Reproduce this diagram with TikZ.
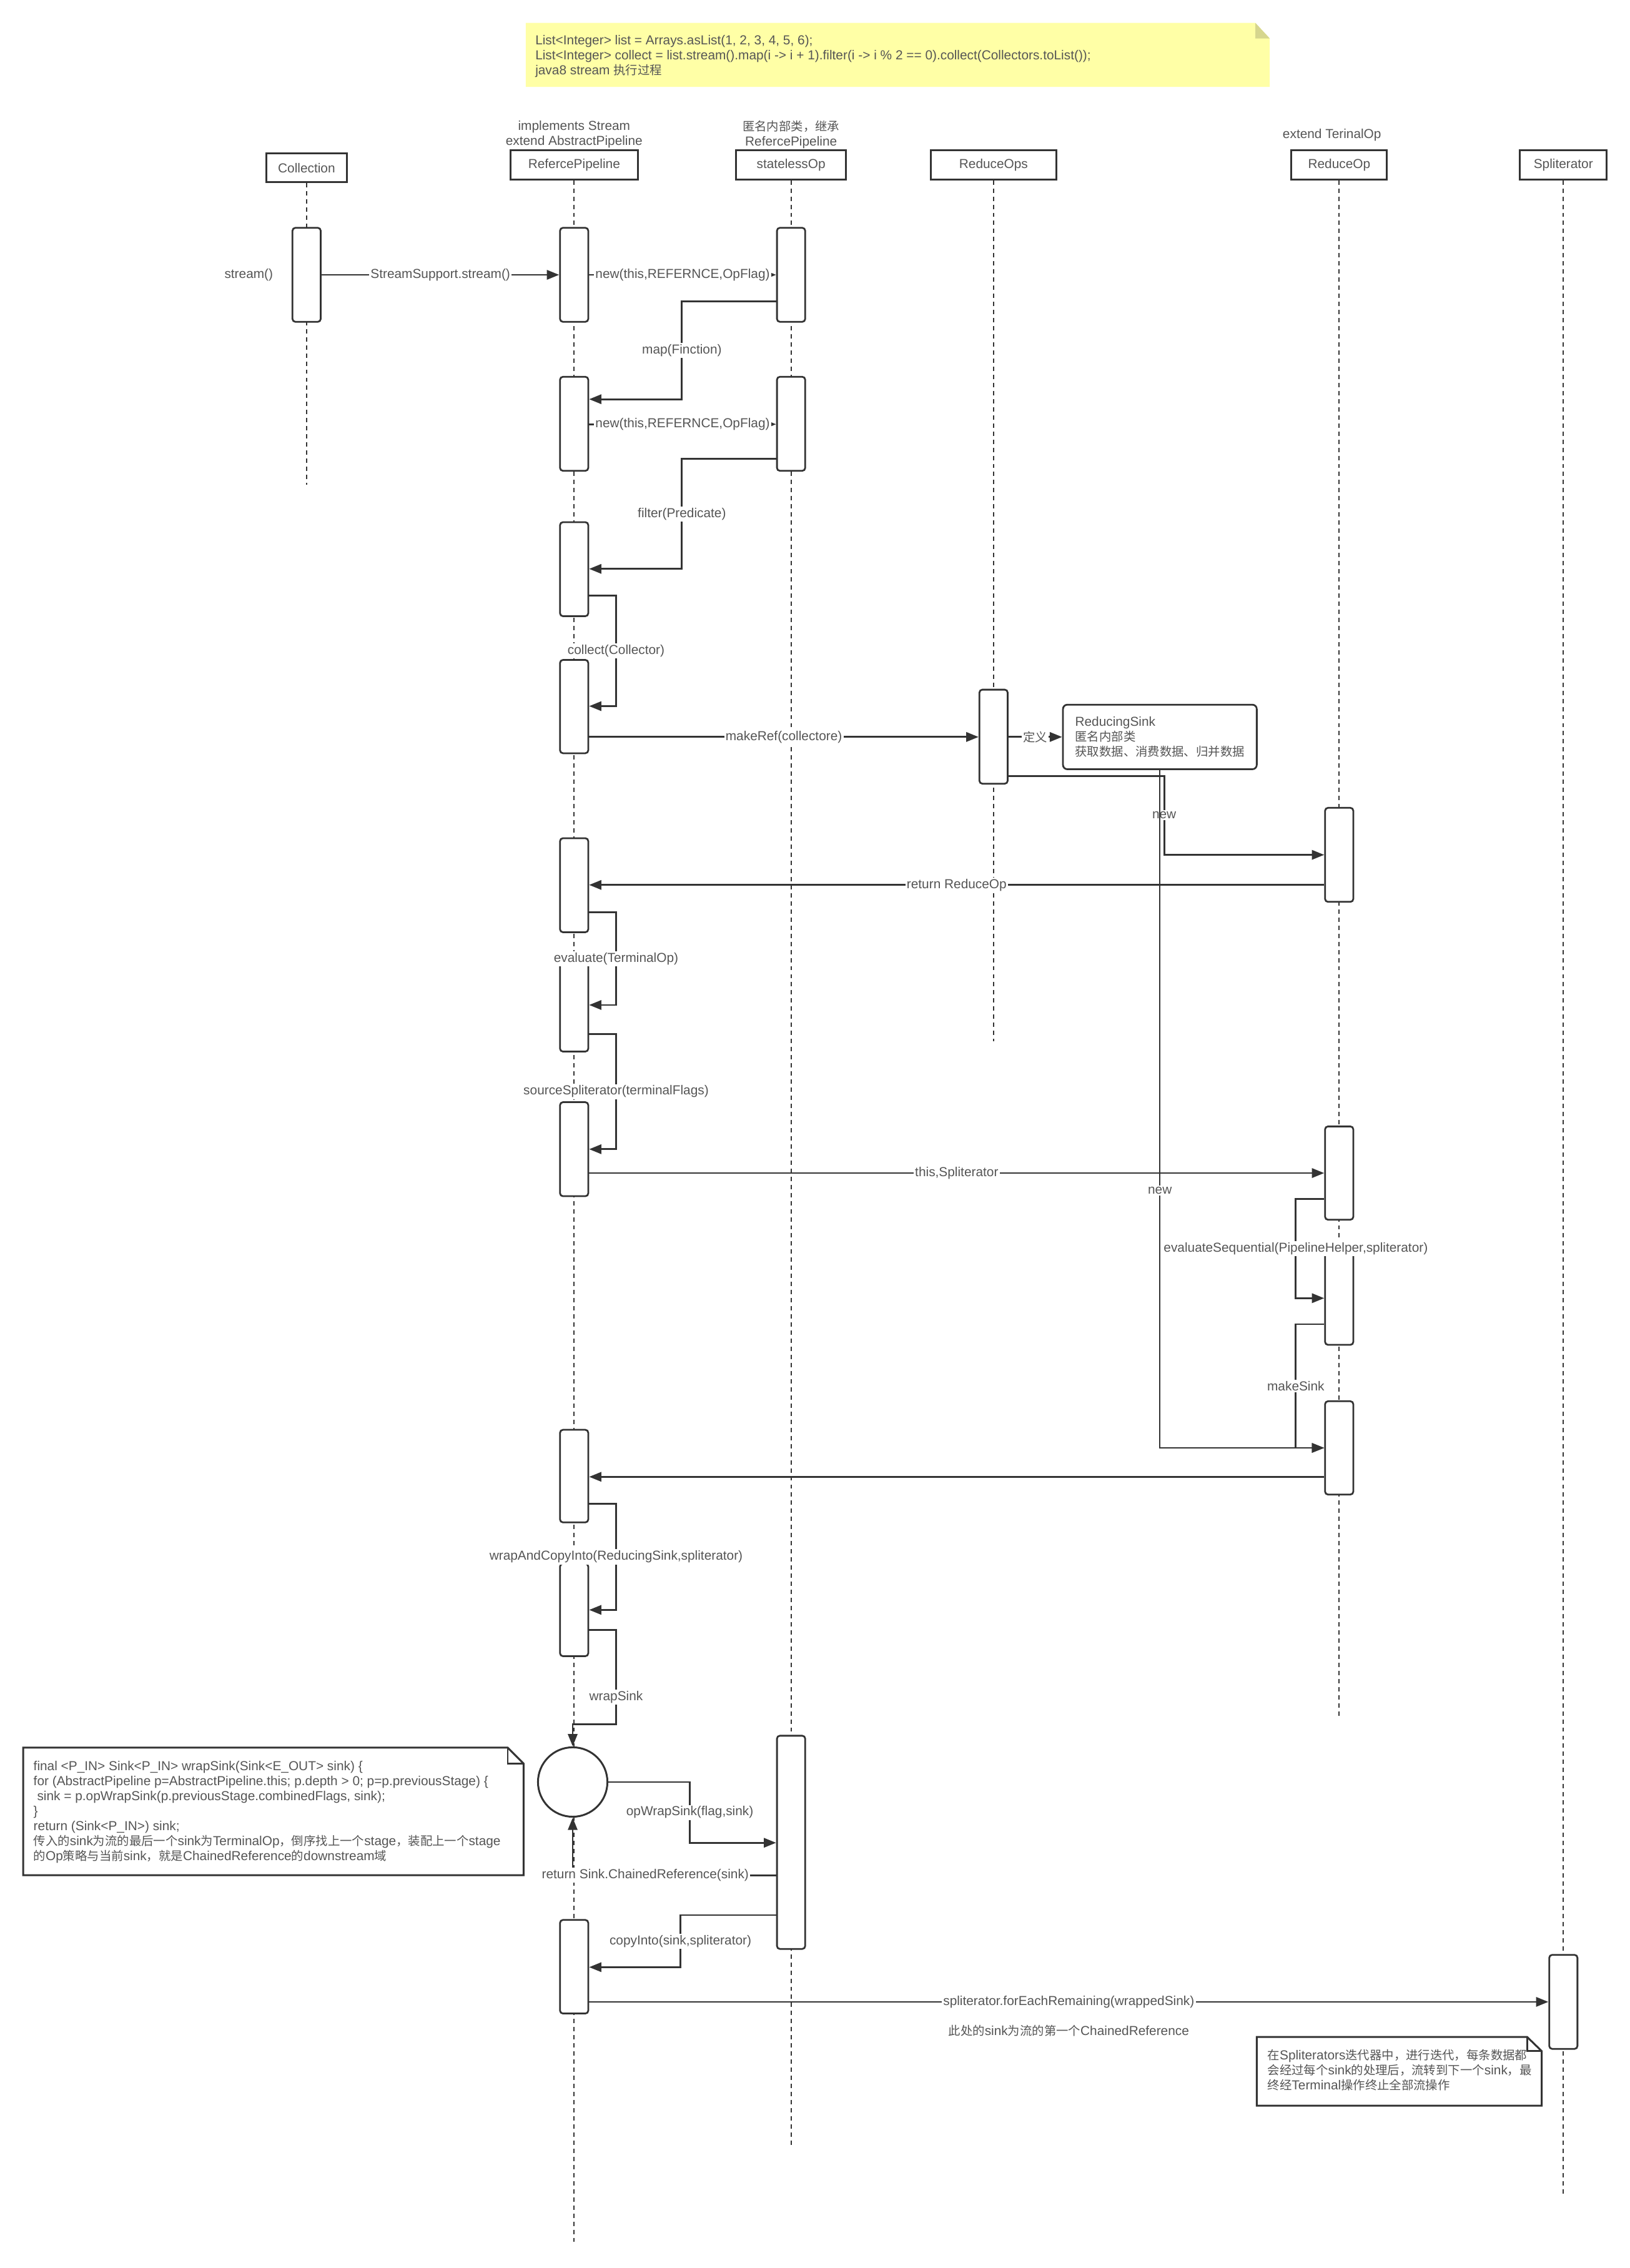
\documentclass[tikz,border=0pt]{standalone}
\usepackage{fontspec}
\setmainfont{Liberation Sans}
\newfontfamily\cjk[Scale=0.93]{Noto Sans CJK SC}
\usetikzlibrary{arrows.meta}
\definecolor{lc}{HTML}{333333}
\definecolor{tc}{HTML}{555555}
\definecolor{notey}{HTML}{FFFFA6}
\definecolor{foldy}{HTML}{D6D68E}
\newcommand\lblfont{\fontsize{9}{10.4}\selectfont\lineskiplimit=-100pt\relax}
\newcommand\fstrut{\rule{0pt}{8.5pt}}

\begin{document}
\begin{tikzpicture}[x=1pt,y=-1pt,
  lbl/.style={font=\lblfont, text=tc, inner sep=1pt},
  onln/.style={lbl, fill=white},
  head/.style={lbl, draw=lc, line width=1.3pt, fill=white, minimum height=20pt, inner sep=0pt},
  bar/.style={draw=lc, line width=1.2pt, fill=white, rounded corners=2pt, minimum width=19.5pt, inner sep=0pt},
  life/.style={draw=lc, line width=0.9pt, dash pattern=on 3pt off 2.6pt},
  msg/.style={draw=lc, line width=1.25pt, -{Triangle[length=8.5pt,width=6.5pt]}},
  msgthin/.style={msg, line width=0.7pt},
  txt/.style={lbl, align=left, anchor=north west, inner sep=0pt},
  notebox/.style={draw=lc, line width=1.3pt, fill=white},
]
\useasboundingbox (0,0) rectangle (1127,1568);

% ---- code note at the top ----
\fill[notey] (363.5,15.8) -- (868,15.8) -- (878,26.6) -- (878,60.1) -- (363.5,60.1) -- cycle;
\fill[foldy] (868,15.8) -- (878,26.6) -- (868,26.6) -- cycle;
\node[txt] (code) at (370,22.2) {\fstrut List<Integer> list = Arrays.asList(1, 2, 3, 4, 5, 6);\\
List<Integer> collect = list.stream().map(i -> i + 1).filter(i -> i \% 2 == 0).collect(Collectors.toList());\\
java8 stream {\cjk 执行过程}};

% ---- lifeline heads ----
\node[head, minimum width=56pt] (hColl) at (212,116) {Collection};
\node[head, minimum width=88pt] (hRP) at (397,114) {RefercePipeline};
\node[head, minimum width=76pt] (hSO) at (547,114) {statelessOp};
\node[head, minimum width=87pt] (hROs) at (687,114) {ReduceOps};
\node[head, minimum width=66pt] (hRO) at (926,114) {ReduceOp};
\node[head, minimum width=60pt] (hSp) at (1081,114) {Spliterator};

\node[lbl, align=center] (rpNote) at (397,93) {implements Stream\\extend AbstractPipeline};
\node[lbl, align=center] (soNote) at (547,93) {{\cjk 匿名内部类，继承}\\RefercePipeline};
\node[lbl] (roNote) at (921,93.5) {extend TerinalOp};

% ---- lifelines ----
\coordinate (eColl) at (212,335);
\coordinate (eRP) at (397,1550);
\coordinate (eSO) at (547,1485);
\coordinate (eROs) at (687,720);
\coordinate (eRO) at (926,1188);
\coordinate (eSp) at (1081,1518);
\draw[life] (hColl.south) -- (eColl);
\draw[life] (hRP.south) -- (eRP);
\draw[life] (hSO.south) -- (eSO);
\draw[life] (hROs.south) -- (eROs);
\draw[life] (hRO.south) -- (eRO);
\draw[life] (hSp.south) -- (eSp);

% ---- activation bars ----
\node[bar, minimum height=65pt] (c1) at (212,190) {};
\node[bar, minimum height=65pt] (rp1) at (397,190) {};
\node[bar, minimum height=65pt] (so1) at (547,190) {};
\node[bar, minimum height=65pt] (rp2) at (397,293) {};
\node[bar, minimum height=65pt] (so2) at (547,293) {};
\node[bar, minimum height=65pt] (rp3) at (397,393.5) {};
\node[bar, minimum height=64.5pt] (rp4) at (397,488.5) {};
\node[bar, minimum height=65pt] (rops) at (687,509.3) {};
\node[bar, minimum height=65pt] (ro1) at (926,591) {};
\node[bar, minimum height=65pt] (rp5) at (397,612) {};
\node[bar, minimum height=64pt] (rp6) at (397,695) {};
\node[bar, minimum height=65pt] (rp7) at (397,794.5) {};
\node[bar, minimum height=64.5pt] (ro2) at (926,811) {};
\node[bar, minimum height=64.5pt] (ro3) at (926,897.5) {};
\node[bar, minimum height=64.5pt] (ro4) at (926,1001) {};
\node[bar, minimum height=64pt] (rp8) at (397,1020.5) {};
\node[bar, minimum height=64pt] (rp9) at (397,1113) {};
\node[bar, minimum height=147.4pt] (so3) at (547,1273.7) {};
\node[bar, minimum height=64.7pt] (rp10) at (397,1359.7) {};
\node[bar, minimum height=65pt] (spb) at (1081,1384) {};

\node[circle, draw=lc, line width=1.3pt, fill=white, minimum size=48pt, inner sep=0pt] (ws) at (396,1232) {};

\node[lbl, draw=lc, line width=1.2pt, fill=white, rounded corners=3pt, minimum width=134pt,
      minimum height=44.6pt, align=left] (sinkbox) at (802,509.5)
      {ReducingSink\\{\cjk 匿名内部类}\\{\cjk 获取数据、消费数据、归并数据}};

% ---- messages ----
\node[lbl] (streamCall) at (172,190) {stream()};
\draw[msg] (c1.east) -- node[onln]{StreamSupport.stream()} (rp1.west);
\draw[msg] (rp1.east) -- node[onln]{new(this,REFERNCE,OpFlag)} (so1.west);
\draw[msg] (so1.west |- 0,208.4) -- (471.5,208.4) -- node[onln]{map(Finction)} (471.5,276) -- (rp2.east |- 0,276);
\draw[msg] (rp2.east |- 0,293.3) -- node[onln]{new(this,REFERNCE,OpFlag)} (so2.west |- 0,293.3);
\draw[msg] (so2.west |- 0,317.3) -- (471.5,317.3) -- node[onln]{filter(Predicate)} (471.5,393.3) -- (rp3.east |- 0,393.3);
\draw[msg] (rp3.east |- 0,411.6) -- (426,411.6) -- node[onln]{collect(Collector)} (426,488.2) -- (rp4.east |- 0,488.2);
\draw[msg] (rp4.east |- sinkbox.west) -- node[onln]{makeRef(collectore)} (rops.west |- sinkbox.west);
\draw[msg] (rops.east |- sinkbox.west) -- node[onln]{\cjk 定义} (sinkbox.west);
\draw[msg] (rops.east |- 0,536.4) -- (805,536.4) -- node[onln]{new} (805,591) -- (ro1.west);
\draw[msg] (ro1.west |- 0,611.8) -- node[onln]{return ReduceOp} (rp5.east |- 0,611.8);
\draw[msg] (rp5.east |- 0,630.8) -- (426,630.8) -- node[onln]{evaluate(TerminalOp)} (426,694.8) -- (rp6.east |- 0,694.8);
\draw[msg] (rp6.east |- 0,714.8) -- (426,714.8) -- node[onln]{sourceSpliterator(terminalFlags)} (426,794.5) -- (rp7.east);
\draw[msg] (rp7.east |- ro2.west) -- node[onln]{this,Spliterator} (ro2.west);
\draw[msgthin] (sinkbox.south) -- node[onln,pos=0.62]{new} (802,1001) -- (ro4.west);
\draw[msg] (ro2.west |- 0,829) -- (896,829) -- node[onln]{evaluateSequential(PipelineHelper,spliterator)} (896,897.5) -- (ro3.west);
\draw[msg] (ro3.west |- 0,915.5) -- (896,915.5) -- node[onln]{makeSink} (896,1001) -- (ro4.west);
\draw[msg] (ro4.west |- 0,1021) -- (rp8.east |- 0,1021);
\draw[msg] (rp8.east |- 0,1039.7) -- (426,1039.7) -- node[onln]{wrapAndCopyInto(ReducingSink,spliterator)} (426,1113) -- (rp9.east);
\draw[msg] (rp9.east |- 0,1127) -- (426,1127) -- node[onln,pos=0.71]{wrapSink} (426,1192) -- (396,1192) -- (ws.north);
\draw[msg] (ws.east) -- (477,1232) -- node[onln]{opWrapSink(flag,sink)} (477,1274) -- (so3.west |- 0,1274);
\draw[msg] (so3.west |- 0,1296.4) -- node[onln,pos=0.643]{return Sink.ChainedReference(sink)} (396,1296.4) -- (ws.south);
\draw[msg] (so3.west |- 0,1324) -- (470.5,1324) -- node[onln]{copyInto(sink,spliterator)} (470.5,1360) -- (rp10.east |- 0,1360);
\draw[msg] (rp10.east |- spb.west) -- node[onln]{spliterator.forEachRemaining(wrappedSink)} (spb.west);
\node[lbl] (firstRef) at (739,1404) {{\cjk 此处的}sink{\cjk 为流的第一个}ChainedReference};

% ---- wrapSink note ----
\draw[notebox] (16,1208.2) -- (351,1208.2) -- (362,1219.2) -- (362,1296.4) -- (16,1296.4) -- cycle;
\draw[draw=lc, line width=1.1pt] (351,1208.2) -- (351,1219.2) -- (362,1219.2);
\node[txt] (wrapCode) at (23,1215.2) {\fstrut final <P\_IN> Sink<P\_IN> wrapSink(Sink<E\_OUT> sink) \{\\
for (AbstractPipeline p=AbstractPipeline.this; p.depth > 0; p=p.previousStage) \{\\
\hspace{2.5pt}sink = p.opWrapSink(p.previousStage.combinedFlags, sink);\\
\}\\
return (Sink<P\_IN>) sink;\\
{\cjk 传入的}sink{\cjk 为流的最后一个}sink{\cjk 为}TerminalOp{\cjk ，倒序找上一个}stage{\cjk ，装配上一个}stage\\
{\cjk 的}Op{\cjk 策略与当前}sink{\cjk ，就是}ChainedReference{\cjk 的}downstream{\cjk 域}};

% ---- iteration note ----
\draw[notebox] (869,1408.3) -- (1056,1408.3) -- (1066,1418) -- (1066,1455.8) -- (869,1455.8) -- cycle;
\draw[draw=lc, line width=1.1pt] (1056,1408.3) -- (1056,1418) -- (1066,1418);
\node[txt] (iterText) at (876.3,1415.3) {\fstrut{\cjk 在}Spliterators{\cjk 迭代器中，进行迭代，每条数据都}\\
{\cjk 会经过每个}sink{\cjk 的处理后，流转到下一个}sink{\cjk ，最}\\
{\cjk 终经}Terminal{\cjk 操作终止全部流操作}};

\end{tikzpicture}
\end{document}
